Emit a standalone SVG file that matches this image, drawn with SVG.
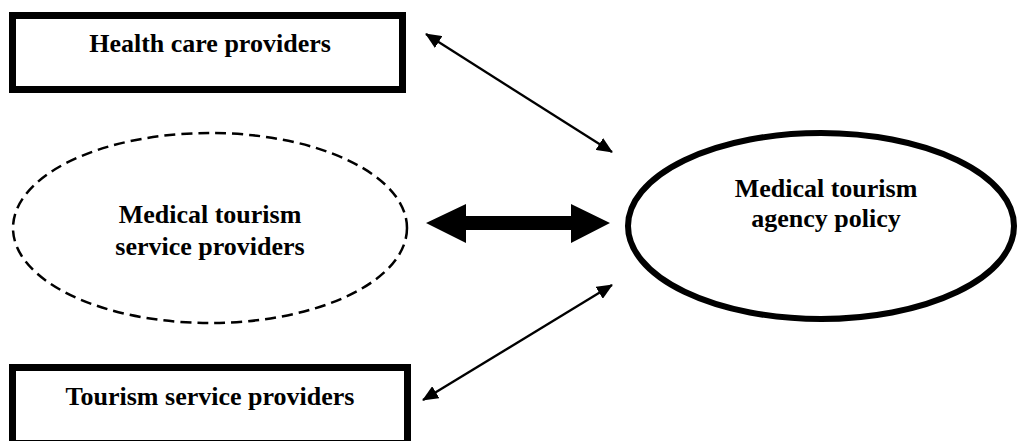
<svg xmlns="http://www.w3.org/2000/svg" width="1017" height="441" viewBox="0 0 1017 441">
  <style>
    .box { fill: #fff; stroke: #000; stroke-width: 7; }
    .lbl { font-family: "Liberation Serif", "Times New Roman", serif; font-weight: bold; font-size: 26px; fill: #000; text-anchor: middle; }
    .thin { stroke: #000; stroke-width: 2.3; fill: none; marker-start: url(#ah); marker-end: url(#ah); }
  </style>
  <defs>
    <marker id="ah" viewBox="0 0 16 14" refX="15" refY="7" markerWidth="16" markerHeight="14" markerUnits="userSpaceOnUse" orient="auto-start-reverse">
      <path d="M0,0 L16,7 L0,14 Z" fill="#000"/>
    </marker>
  </defs>
  <rect width="1017" height="441" fill="#fff"/>
  <g id="health-care">
    <rect class="box" x="12.5" y="15.5" width="390" height="74"/>
    <text class="lbl" x="210" y="52">Health care providers</text>
  </g>
  <g id="mt-service">
    <ellipse cx="210" cy="228" rx="197" ry="95" fill="#fff" stroke="#000" stroke-width="2.5" stroke-dasharray="11,6"/>
    <text class="lbl" x="210" y="223">Medical tourism</text>
    <text class="lbl" x="210" y="255">service providers</text>
  </g>
  <g id="tourism-service">
    <rect class="box" x="12.5" y="367.5" width="395" height="76"/>
    <text class="lbl" x="210" y="405">Tourism service providers</text>
  </g>
  <g id="agency-policy">
    <ellipse cx="821" cy="226" rx="193" ry="93" fill="#fff" stroke="#000" stroke-width="6"/>
    <text class="lbl" x="826" y="197">Medical tourism</text>
    <text class="lbl" x="826" y="227">agency policy</text>
  </g>
  <g id="connectors">
    <line class="thin" x1="426" y1="34" x2="612" y2="152"/>
    <line class="thin" x1="612" y1="285" x2="423" y2="400"/>
    <polygon points="426,223 466,204 466,216 571,216 571,204 610,223 571,243 571,230 466,230 466,243" fill="#000"/>
  </g>
</svg>
